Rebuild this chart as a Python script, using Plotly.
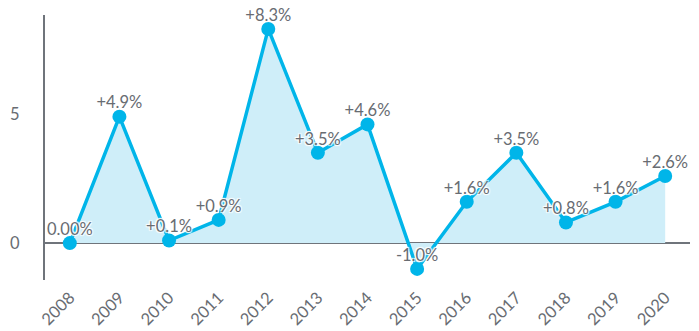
import plotly.graph_objects as go

years = ["2008", "2009", "2010", "2011", "2012", "2013", "2014",
         "2015", "2016", "2017", "2018", "2019", "2020"]
values = [0.0, 4.9, 0.1, 0.9, 8.3, 3.5, 4.6, -1.0, 1.6, 3.5, 0.8, 1.6, 2.6]
labels = ["0.00%", "+4.9%", "+0.1%", "+0.9%", "+8.3%", "+3.5%", "+4.6%",
          "-1.0%", "+1.6%", "+3.5%", "+0.8%", "+1.6%", "+2.6%"]

line_color = "#00b5e9"
fill_color = "#cfeef9"
grey = "#6f747b"
text_grey = "#686c72"
halo = "1px 1px 1px white, -1px -1px 1px white, 1px -1px 1px white, -1px 1px 1px white"

fig = go.Figure()
fig.add_trace(go.Scatter(
    x=years, y=values, mode="lines+markers",
    line=dict(color=line_color, width=3.5),
    marker=dict(color=line_color, size=14),
    fill="tozeroy", fillcolor=fill_color,
    cliponaxis=False,
    showlegend=False,
    hoverinfo="skip",
))
fig.add_trace(go.Scatter(
    x=years, y=values, mode="markers+text",
    text=labels, textposition="top center",
    textfont=dict(family="Lato", size=16.5, color=text_grey, shadow=halo),
    marker=dict(size=5, color="rgba(0,0,0,0)"),
    cliponaxis=False,
    showlegend=False,
    hoverinfo="skip",
))

fig.update_layout(
    width=699, height=331,
    margin=dict(l=45, r=9, t=15, b=51, autoexpand=False),
    paper_bgcolor="white", plot_bgcolor="white",
    font=dict(family="Lato", size=16.5, color=text_grey),
    xaxis=dict(
        type="category", range=[-0.5, 12.5], automargin=False,
        showgrid=False, showline=False, zeroline=False,
        tickangle=-45, ticks="", ticklabelstandoff=4,
        tickfont=dict(family="Lato", size=16.5, color=text_grey),
    ),
    yaxis=dict(
        range=[-1.43, 8.84], tickvals=[0, 5], ticktext=["0", "5"],
        automargin=False,
        showgrid=False, showline=True, linecolor=grey, linewidth=2,
        zeroline=True, zerolinecolor=grey, zerolinewidth=2,
        ticks="", ticklabelstandoff=20,
        tickfont=dict(family="Lato", size=16.5, color=text_grey),
    ),
)

fig.write_html(
    "out.html",
    config={"displayModeBar": False},
    post_script="document.body.style.margin='0';document.body.style.padding='0';",
)
